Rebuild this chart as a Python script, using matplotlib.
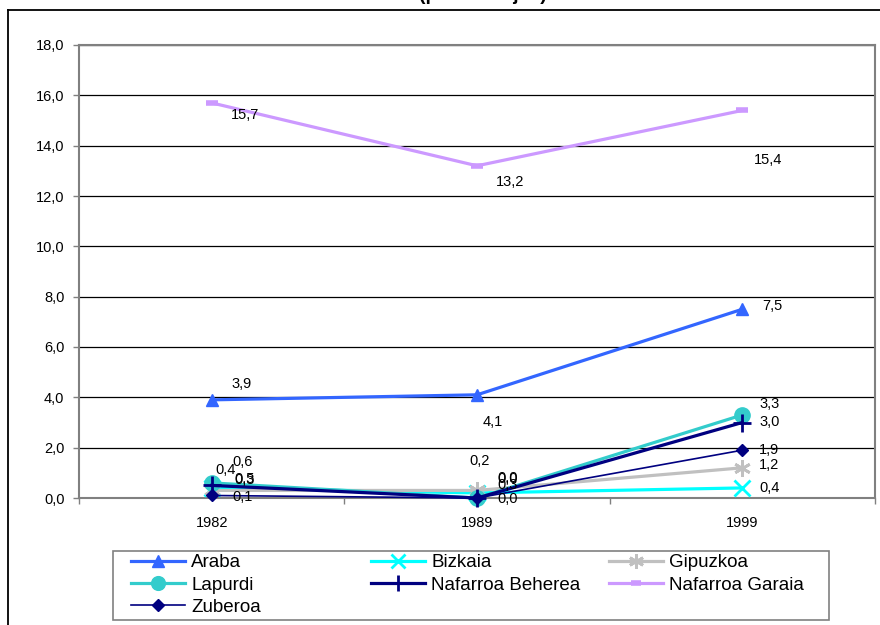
import matplotlib
matplotlib.use("Agg")
import matplotlib.pyplot as plt
from matplotlib.lines import Line2D
from matplotlib.patches import Rectangle
from matplotlib.ticker import FuncFormatter, FixedLocator

plt.rcParams['font.family'] = ['Liberation Sans', 'DejaVu Sans']

# ---- data ----
years = ["1982", "1989", "1999"]
araba = [3.9, 4.1, 7.5]
bizkaia = [0.4, 0.2, 0.4]
gipuzkoa = [0.3, 0.3, 1.2]
lapurdi = [0.6, 0.0, 3.3]
nafarroa_beherea = [0.5, 0.0, 3.0]
nafarroa_garaia = [15.7, 13.2, 15.4]
zuberoa = [0.1, 0.0, 1.9]
yticks = [0, 2, 4, 6, 8, 10, 12, 14, 16, 18]
title_text = "(portzentajea)"

series = [
    ("Araba", araba),
    ("Bizkaia", bizkaia),
    ("Gipuzkoa", gipuzkoa),
    ("Lapurdi", lapurdi),
    ("Nafarroa Beherea", nafarroa_beherea),
    ("Nafarroa Garaia", nafarroa_garaia),
    ("Zuberoa", zuberoa),
]

# ---- styles ----
styles = {
    "Araba": dict(color="#3366FF", lw=2.3, marker="^", ms=9),
    "Bizkaia": dict(color="#00FFFF", lw=2.3, marker="x", ms=11, mew=2),
    "Gipuzkoa": dict(color="#C0C0C0", lw=2.3, marker=(6, 2, 0), ms=12, mew=2),
    "Lapurdi": dict(color="#33CCCC", lw=2.3, marker="o", ms=11),
    "Nafarroa Beherea": dict(color="#000080", lw=2.3, marker="+", ms=13, mew=2),
    "Nafarroa Garaia": dict(color="#CC99FF", lw=2.3, marker="_", ms=8, mew=4),
    "Zuberoa": dict(color="#000080", lw=1.2, marker="D", ms=6.5),
}
# label offsets in pixels (dx, dy up)
label_offsets = {
    "Araba": [(30, 16), (16, -27), (30, 3)],
    "Bizkaia": [(14, 18), (3, 32), (27, 0)],
    "Gipuzkoa": [(33, 10), (31, 5), (27, 3)],
    "Lapurdi": [(31, 21), (31, 20), (27, 11)],
    "Nafarroa Beherea": [(33, 6), (31, 19), (27, 0)],
    "Nafarroa Garaia": [(33, -12), (33, -16), (26, -50)],
    "Zuberoa": [(31, -2), (31, -1), (27, 0)],
}

W, H = 880, 625
fig = plt.figure(figsize=(W / 100, H / 100), dpi=100)
ax = fig.add_axes([79 / W, 1 - 498 / H, (875 - 79) / W, (498 - 45) / H])

x = list(range(len(years)))
handles = {}
for name, vals in series:
    st = styles[name]
    ln, = ax.plot(x, vals, color=st["color"], lw=st["lw"], marker=st["marker"],
                  ms=st["ms"], mew=st.get("mew", 1), mfc=st["color"], mec=st["color"],
                  label=name, zorder=3, clip_on=False)
    handles[name] = ln

for name, vals in series:
    for i, v in enumerate(vals):
        dx, dy = label_offsets[name][i]
        ax.annotate(f"{v:.1f}".replace(".", ","), (x[i], v), xytext=(dx, dy),
                    textcoords="offset pixels", ha="center", va="center",
                    fontsize=10.5, color="black", zorder=5)

ax.set_xlim(-0.5, 2.5)
ax.set_ylim(0, 18)
ax.set_yticks(yticks)
ax.yaxis.set_major_formatter(FuncFormatter(lambda v, p: f"{v:.1f}".replace(".", ",")))
ax.set_xticks(x)
ax.set_xticklabels(years)
ax.xaxis.set_minor_locator(FixedLocator([-0.5, 0.5, 1.5, 2.5]))
ax.tick_params(axis="x", which="major", length=0, pad=13, labelsize=10.5)
ax.tick_params(axis="x", which="minor", length=4.5, width=1, color="#808080", direction="out")
ax.tick_params(axis="y", length=4.5, width=1, color="#808080", pad=6, labelsize=10.5)
ax.grid(axis="y", color="black", lw=0.9, zorder=1)
ax.set_axisbelow(True)
for sp in ax.spines.values():
    sp.set_color("#808080")
    sp.set_linewidth(1.5)

# legend: frame + three single-column legends (row-wise layout)
fig.add_artist(Rectangle((113 / W, 1 - 620 / H), (829 - 113) / W, (620 - 551) / H,
                         transform=fig.transFigure, fill=False, edgecolor="#808080", lw=1.2))
columns = [["Araba", "Lapurdi", "Zuberoa"],
           ["Bizkaia", "Nafarroa Beherea"],
           ["Gipuzkoa", "Nafarroa Garaia"]]
col_x = [131, 371, 609]
for names, cx in zip(columns, col_x):
    lg = fig.legend([handles[n] for n in names], names, loc="upper left",
                    bbox_to_anchor=(cx / W, 1 - 554 / H), fontsize=13.5, frameon=False,
                    handlelength=2.9, handletextpad=0.3, labelspacing=0.28,
                    borderpad=0, borderaxespad=0, markerscale=0.9)

# outer chart frame (extends beyond image)
fig.add_artist(Line2D([8 / W, 1.0], [1 - 10 / H, 1 - 10 / H], color="black", lw=1.3,
                      transform=fig.transFigure))
fig.add_artist(Line2D([8 / W, 8 / W], [1 - 10 / H, 0], color="black", lw=1.3,
                      transform=fig.transFigure))

# title (mostly cut off at the top)
fig.text(483 / W, 1 - 0.5 / H, title_text, ha="center", va="baseline",
         fontsize=14, fontweight="bold")

fig.savefig("out.png", dpi=100)
